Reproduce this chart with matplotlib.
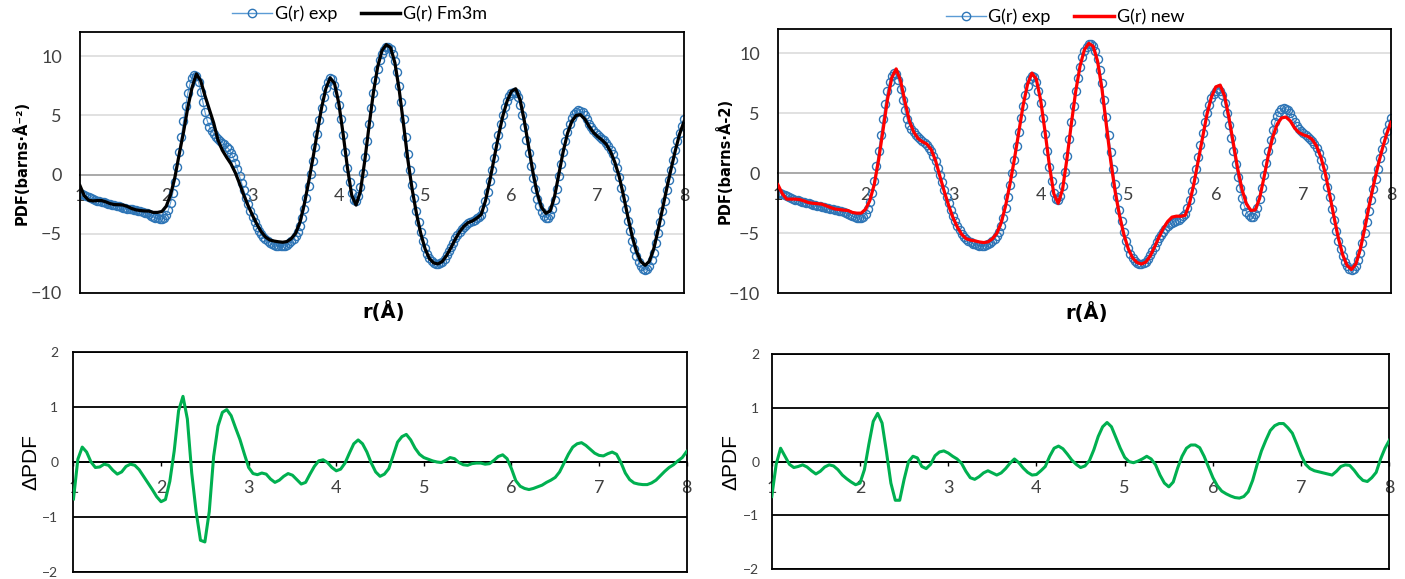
import numpy as np
import matplotlib.pyplot as plt
from matplotlib.lines import Line2D

plt.rcParams['font.family'] = ['Lato', 'DejaVu Sans']

# r grids (Angstrom)
r_exp = np.linspace(1.0, 8.0, 281)
r_fit = np.linspace(1.0, 8.0, 141)

# experimental G(r), step 0.025
g_exp = [
    -1.60, -1.68, -1.75, -1.83, -1.90, -1.98, -2.05, -2.13, -2.20, -2.25,
    -2.30, -2.35, -2.40, -2.45, -2.50, -2.55, -2.60, -2.65, -2.70, -2.75,
    -2.80, -2.84, -2.88, -2.91, -2.95, -2.99, -3.03, -3.06, -3.10, -3.16,
    -3.22, -3.28, -3.35, -3.47, -3.58, -3.66, -3.70, -3.72, -3.75, -3.68,
    -3.40, -3.00, -2.40, -1.60, -0.60, 0.60, 1.90, 3.20, 4.50, 5.75,
    6.85, 7.65, 8.15, 8.40, 8.30, 7.80, 7.00, 6.10, 5.25, 4.55,
    4.05, 3.70, 3.45, 3.20, 3.00, 2.85, 2.70, 2.55, 2.35, 2.15,
    1.85, 1.45, 1.00, 0.45, -0.15, -0.75, -1.35, -1.95, -2.50, -3.05,
    -3.55, -4.00, -4.40, -4.75, -5.05, -5.28, -5.48, -5.62, -5.75, -5.85,
    -5.93, -6.00, -6.05, -6.07, -6.05, -6.00, -5.92, -5.80, -5.62, -5.45,
    -5.20, -4.85, -4.35, -3.70, -2.90, -2.00, -1.00, 0.05, 1.15, 2.30,
    3.45, 4.60, 5.65, 6.55, 7.30, 7.85, 8.15, 8.05, 7.60, 6.85,
    5.85, 4.65, 3.30, 1.90, 0.55, -0.65, -1.60, -2.15, -2.25, -1.85,
    -1.05, 0.10, 1.45, 2.85, 4.25, 5.60, 6.85, 7.95, 8.90, 9.65,
    10.20, 10.55, 10.75, 10.78, 10.60, 10.20, 9.55, 8.65, 7.50, 6.15,
    4.70, 3.20, 1.75, 0.40, -0.85, -2.00, -3.05, -4.00, -4.85, -5.60,
    -6.20, -6.70, -7.05, -7.30, -7.45, -7.52, -7.55, -7.50, -7.35, -7.10,
    -6.80, -6.45, -6.10, -5.75, -5.40, -5.10, -4.85, -4.62, -4.42, -4.25,
    -4.12, -4.03, -3.95, -3.85, -3.70, -3.55, -3.40, -2.90, -2.25, -1.45,
    -0.55, 0.40, 1.40, 2.40, 3.35, 4.25, 5.05, 5.70, 6.25, 6.65,
    6.90, 7.00, 6.90, 6.55, 5.90, 5.05, 4.05, 2.95, 1.85, 0.75,
    -0.30, -1.25, -2.05, -2.70, -3.20, -3.50, -3.65, -3.65, -3.40, -2.90,
    -2.15, -1.20, -0.15, 0.90, 1.90, 2.80, 3.60, 4.25, 4.75, 5.10,
    5.32, 5.42, 5.40, 5.25, 5.00, 4.65, 4.30, 3.98, 3.72, 3.50,
    3.32, 3.17, 3.03, 2.88, 2.70, 2.45, 2.10, 1.70, 1.15, 0.55,
    -0.20, -1.10, -2.00, -2.95, -3.90, -4.80, -5.60, -6.30, -6.90, -7.40,
    -7.75, -7.98, -8.08, -8.00, -7.70, -7.25, -6.60, -5.80, -4.95, -4.05,
    -3.10, -2.20, -1.30, -0.45, 0.40, 1.25, 2.05, 2.80, 3.50, 4.10,
    4.65,
]

# Fm3m model G(r), step 0.05
g_fm3m = [
    -0.93, -1.80, -2.17, -2.23, -2.20, -2.20, -2.31, -2.46, -2.54, -2.55,
    -2.58, -2.70, -2.87, -2.99, -3.04, -3.08, -3.09, -3.20, -3.20, -3.12,
    -2.68, -1.72, -0.25, 1.70, 3.57, 5.66, 7.37, 8.50, 7.90, 6.63,
    5.50, 4.35, 2.90, 2.05, 1.45, 0.90, 0.16, -0.77, -1.76, -2.65,
    -3.45, -4.19, -4.82, -5.28, -5.53, -5.62, -5.68, -5.72, -5.66, -5.41,
    -4.96, -4.03, -2.50, -0.63, 1.37, 3.53, 5.63, 7.26, 8.16, 7.70,
    6.01, 3.43, 0.57, -1.76, -2.58, -1.45, 1.12, 4.07, 6.87, 9.08,
    10.46, 10.97, 10.72, 9.43, 7.14, 4.24, 1.25, -1.25, -3.30, -4.99,
    -6.28, -7.10, -7.47, -7.55, -7.34, -6.83, -6.18, -5.46, -4.84, -4.37,
    -4.06, -3.92, -3.68, -3.38, -2.21, -0.52, 1.37, 3.25, 4.92, 6.19,
    7.02, 7.24, 6.34, 4.53, 2.35, 0.18, -1.60, -2.78, -3.28, -3.07,
    -1.87, 0.03, 1.92, 3.46, 4.48, 4.99, 5.05, 4.70, 4.07, 3.56,
    3.20, 2.92, 2.55, 1.92, 1.01, -0.19, -1.80, -3.58, -5.22, -6.50,
    -7.34, -7.67, -7.32, -6.27, -4.70, -2.93, -1.20, 0.45, 2.03, 3.42,
    4.46,
]

# new model G(r), step 0.05
g_new = [
    -0.95, -1.70, -2.15, -2.15, -2.15, -2.19, -2.31, -2.44, -2.50, -2.53,
    -2.57, -2.70, -2.85, -2.97, -3.02, -3.07, -3.10, -3.26, -3.32, -3.32,
    -3.00, -2.25, -0.92, 1.15, 3.60, 6.13, 7.97, 8.70, 7.72, 5.97,
    4.38, 3.45, 2.90, 2.63, 2.44, 1.98, 1.05, -0.26, -1.53, -2.70,
    -3.71, -4.50, -5.10, -5.45, -5.57, -5.63, -5.72, -5.77, -5.71, -5.45,
    -4.99, -4.10, -2.69, -0.87, 1.18, 3.40, 5.67, 7.42, 8.35, 7.85,
    6.09, 3.47, 0.64, -1.70, -2.50, -1.34, 1.21, 4.11, 6.82, 8.95,
    10.31, 10.83, 10.58, 9.33, 7.03, 4.05, 1.02, -1.50, -3.50, -5.10,
    -6.28, -7.05, -7.43, -7.56, -7.40, -6.90, -6.15, -5.34, -4.60, -4.02,
    -3.65, -3.57, -3.58, -3.50, -2.50, -0.86, 1.09, 3.09, 4.95, 6.35,
    7.20, 7.35, 6.45, 4.65, 2.49, 0.37, -1.37, -2.55, -3.09, -3.05,
    -2.09, -0.35, 1.50, 3.02, 4.08, 4.61, 4.69, 4.37, 3.77, 3.39,
    3.20, 3.08, 2.83, 2.27, 1.34, 0.01, -1.77, -3.65, -5.42, -6.81,
    -7.69, -8.01, -7.54, -6.33, -4.60, -2.73, -1.00, 0.60, 2.00, 3.25,
    4.25,
]

# difference curves, step 0.05
d_fm3m = [
    -0.67, 0.05, 0.27, 0.18, 0.00, -0.10, -0.09, -0.04, -0.06, -0.15,
    -0.22, -0.18, -0.08, -0.04, -0.06, -0.14, -0.26, -0.38, -0.50, -0.63,
    -0.72, -0.68, -0.35, 0.20, 0.93, 1.19, 0.78, -0.20, -0.90, -1.42,
    -1.45, -0.90, 0.10, 0.65, 0.90, 0.95, 0.84, 0.62, 0.41, 0.15,
    -0.10, -0.21, -0.23, -0.20, -0.22, -0.31, -0.37, -0.33, -0.26, -0.21,
    -0.24, -0.32, -0.40, -0.37, -0.22, -0.08, 0.02, 0.04, -0.01, -0.10,
    -0.16, -0.13, -0.02, 0.16, 0.33, 0.40, 0.33, 0.18, -0.02, -0.18,
    -0.26, -0.22, -0.12, 0.12, 0.36, 0.46, 0.50, 0.40, 0.25, 0.14,
    0.08, 0.05, 0.02, 0.00, -0.01, 0.03, 0.08, 0.06, -0.01, -0.05,
    -0.06, -0.03, -0.02, -0.02, -0.04, -0.03, 0.03, 0.10, 0.13, 0.06,
    -0.12, -0.34, -0.44, -0.48, -0.50, -0.48, -0.45, -0.42, -0.37, -0.33,
    -0.28, -0.18, -0.02, 0.14, 0.27, 0.33, 0.35, 0.30, 0.23, 0.16,
    0.12, 0.11, 0.15, 0.18, 0.14, -0.01, -0.20, -0.32, -0.38, -0.40,
    -0.41, -0.41, -0.38, -0.33, -0.25, -0.17, -0.10, -0.05, 0.02, 0.08,
    0.19,
]

d_new = [
    -0.65, -0.05, 0.25, 0.10, -0.05, -0.11, -0.09, -0.06, -0.10, -0.17,
    -0.23, -0.18, -0.10, -0.06, -0.08, -0.15, -0.25, -0.32, -0.38, -0.43,
    -0.40, -0.15, 0.32, 0.75, 0.90, 0.72, 0.18, -0.40, -0.72, -0.72,
    -0.33, 0.00, 0.10, 0.07, -0.09, -0.13, -0.05, 0.11, 0.18, 0.20,
    0.16, 0.10, 0.05, -0.03, -0.18, -0.30, -0.33, -0.28, -0.21, -0.17,
    -0.21, -0.25, -0.21, -0.13, -0.03, 0.05, -0.02, -0.12, -0.20, -0.25,
    -0.24, -0.17, -0.09, 0.10, 0.25, 0.29, 0.24, 0.14, 0.03, -0.05,
    -0.11, -0.08, 0.02, 0.22, 0.47, 0.65, 0.73, 0.65, 0.45, 0.25,
    0.08, 0.00, -0.02, 0.01, 0.05, 0.10, 0.05, -0.06, -0.25, -0.40,
    -0.47, -0.38, -0.12, 0.10, 0.25, 0.31, 0.31, 0.26, 0.10, -0.10,
    -0.30, -0.45, -0.55, -0.60, -0.64, -0.67, -0.68, -0.65, -0.56, -0.35,
    -0.06, 0.20, 0.40, 0.58, 0.67, 0.71, 0.71, 0.63, 0.53, 0.33,
    0.12, -0.05, -0.13, -0.17, -0.19, -0.21, -0.23, -0.25, -0.18, -0.09,
    -0.06, -0.07, -0.16, -0.27, -0.35, -0.37, -0.30, -0.20, 0.05, 0.25,
    0.40,
]

x_ticks = [1, 2, 3, 4, 5, 6, 7, 8]
exp_edge = '#2E75B6'
exp_line = '#5B9BD5'
tick_grey = '#404040'

fig = plt.figure(figsize=(14.05, 5.79), dpi=100)


def frame(ax, lw=1.3):
    for s in ax.spines.values():
        s.set_linewidth(lw)
        s.set_color('black')


def zero_axis(ax, ymin, ymax, size, length, pad):
    # x tick labels sit on the y = 0 line, Excel style
    sec = ax.secondary_xaxis((0 - ymin) / (ymax - ymin))
    sec.set_alignment('bottom')
    sec.set_xticks(x_ticks)
    sec.spines['bottom'].set_linewidth(1.3)
    sec.spines['bottom'].set_color('black')
    sec.tick_params(axis='x', length=length, width=1, pad=pad,
                    labelsize=size, labelcolor=tick_grey)
    return sec


def top_panel(rect, fit, fit_color, ylabel, ylab_x, xlab_x):
    ax = fig.add_axes(rect)
    ax.plot(r_exp, g_exp, color=exp_line, lw=0.8, marker='o', ms=5.8,
            mfc='none', mec=exp_edge, mew=1.0, zorder=2)
    ax.plot(r_fit, fit, color=fit_color, lw=2.3, zorder=3)
    ax.set_xlim(1, 8)
    ax.set_ylim(-10, 12)
    ax.set_xticks([])
    ax.set_yticks([-10, -5, 0, 5, 10])
    ax.yaxis.grid(True, color='#D9D9D9', lw=1.1)
    ax.set_axisbelow(True)
    ax.tick_params(axis='y', length=0, pad=13, labelsize=13,
                   labelcolor=tick_grey)
    zero_axis(ax, -10, 12, 13, 0, 10)
    ax.set_ylabel(ylabel, family='DejaVu Sans', weight='bold',
                  fontsize=10.5, va='center')
    ax.yaxis.set_label_coords(ylab_x, 0.5)
    ax.set_xlabel('r(Å)', family='DejaVu Sans', weight='bold',
                  fontsize=14, va='center')
    ax.xaxis.set_label_coords(xlab_x, -0.072)
    frame(ax)
    return ax


def diff_panel(rect, diff, ylab_x, ypad):
    ax = fig.add_axes(rect)
    ax.plot(r_fit, diff, color='#00B050', lw=2.2, zorder=3)
    ax.set_xlim(1, 8)
    ax.set_ylim(-2, 2)
    ax.set_xticks([])
    ax.set_yticks([-2, -1, 0, 1, 2])
    ax.yaxis.grid(True, color='black', lw=1.3)
    ax.set_axisbelow(True)
    ax.tick_params(axis='y', length=0, pad=ypad, labelsize=10,
                   labelcolor=tick_grey)
    zero_axis(ax, -2, 2, 13, 3, 10)
    ax.set_ylabel('ΔPDF', family='Liberation Sans', fontsize=15,
                  va='center')
    ax.yaxis.set_label_coords(ylab_x, 0.5)
    frame(ax)
    return ax


ax1 = top_panel([0.0569, 0.4941, 0.4299, 0.4499], g_fm3m, 'black',
                'PDF(barns·Å⁻²)', -0.0977, 0.502)
ax2 = top_panel([0.5537, 0.4934, 0.4363, 0.4560], g_new, '#FF0000',
                'PDF(barns·Å-2)', -0.0873, 0.504)
ax3 = diff_panel([0.0523, 0.0116, 0.4364, 0.3810], d_fm3m, -0.069, 11)
ax4 = diff_panel([0.5493, 0.0174, 0.4396, 0.3706], d_new, -0.067, 9)


def exp_handle():
    return Line2D([], [], color=exp_line, lw=1, marker='o', ms=6,
                  mfc='none', mec=exp_edge, mew=1)


for (x, y), fit_color, name in [((0.256, 0.976), 'black', 'G(r) Fm3m'),
                                ((0.758, 0.971), '#FF0000', 'G(r) new')]:
    fig.legend([exp_handle(), Line2D([], [], color=fit_color, lw=2.5)],
               ['G(r) exp', name], loc='center', bbox_to_anchor=(x, y),
               ncol=2, frameon=False, fontsize=13, handlelength=2.2,
               handletextpad=0.15, columnspacing=1.3, borderpad=0.1)

fig.savefig('out.png', dpi=100)
